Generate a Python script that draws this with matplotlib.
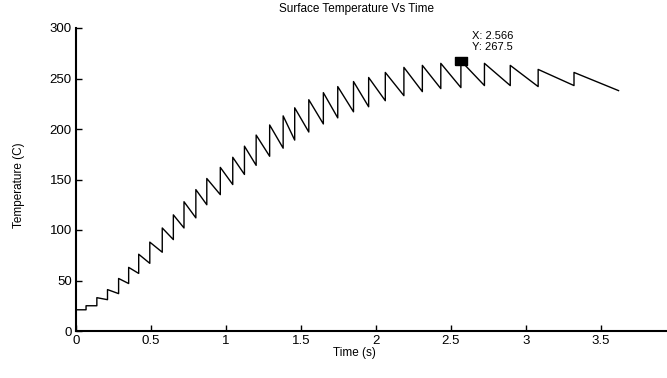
import numpy as np
from matplotlib import pyplot as plt

# Time of each heating pulse (s), temperature just before and just after it (C)
t_pulse = [0.067, 0.139, 0.210, 0.284, 0.351, 0.418, 0.492, 0.575, 0.649, 0.720,
           0.799, 0.872, 0.962, 1.045, 1.123, 1.201, 1.291, 1.381, 1.458, 1.552,
           1.649, 1.745, 1.850, 1.951, 2.062, 2.186, 2.309, 2.432, 2.566, 2.723,
           2.895, 3.081, 3.320]
T_before = [21, 25, 31, 37, 47, 57, 67, 78, 90.5, 102,
            112, 125, 135, 145, 155, 164, 173, 181, 189, 197,
            205, 211, 217, 222, 228, 233, 237, 240, 241, 243,
            243, 242, 243]
T_after = [25, 33, 41, 52, 63, 76, 88, 102, 115, 128,
           140, 151, 162, 172, 183, 194, 204, 213, 221, 229,
           236, 242, 247, 251, 256, 261, 263, 265, 267.5, 265,
           263, 259, 256]
t_start, T_start = 0.0, 21
t_end, T_end = 3.617, 238

tip_x, tip_y = 2.566, 267.5
xtick_vals = [0, 0.5, 1, 1.5, 2, 2.5, 3, 3.5]
xtick_txt = ['0', '0.5', '1', '1.5', '2', '2.5', '3', '3.5']
ytick_vals = [0, 50, 100, 150, 200, 250, 300]

# build the sawtooth trace
t = [t_start]
T = [T_start]
for tp, tb, ta in zip(t_pulse, T_before, T_after):
    t += [tp, tp]
    T += [tb, ta]
t.append(t_end)
T.append(T_end)

plt.rcParams['font.family'] = ['Liberation Sans', 'DejaVu Sans']
fig = plt.figure(figsize=(6.67, 3.78), dpi=100)
ax = fig.add_axes([76 / 667, 47 / 378, 591 / 667, 303 / 378])

ax.plot(t, T, color='black', linewidth=1.0)

# data tip (wide rectangle marker)
rect = [(-1.4, -1), (1.4, -1), (1.4, 1), (-1.4, 1), (-1.4, -1)]
ax.plot([tip_x], [tip_y], marker=rect, markersize=8, color='black', linestyle='None')
ax.annotate('X: %.3f\nY: %.1f' % (tip_x, tip_y), xy=(tip_x, tip_y),
            xytext=(8, 6), textcoords='offset points', fontsize=8,
            ha='left', va='bottom', linespacing=1.15)

ax.set_xlim(0, 591 / 150)
ax.set_ylim(0, 300)
ax.set_xticks(xtick_vals)
ax.set_xticklabels(xtick_txt)
ax.set_yticks(ytick_vals)
ax.tick_params(direction='in', length=4, width=1, labelsize=9.5, pad=3)
ax.spines['top'].set_visible(False)
ax.spines['right'].set_visible(False)
ax.spines['left'].set_linewidth(1.5)
ax.spines['bottom'].set_linewidth(1.5)

# title and labels placed where they sit in the original
fig.text(357 / 667, 1 - 9 / 378, 'Surface Temperature Vs Time', fontsize=8.5,
         ha='center', va='center')
fig.text(354 / 667, 1 - 353 / 378, 'Time (s)', fontsize=8.5, ha='center', va='center')
fig.text(19 / 667, 1 - 185 / 378, 'Temperature (C)', fontsize=8.5, rotation=90,
         ha='center', va='center')

fig.savefig('out.png', dpi=100)
